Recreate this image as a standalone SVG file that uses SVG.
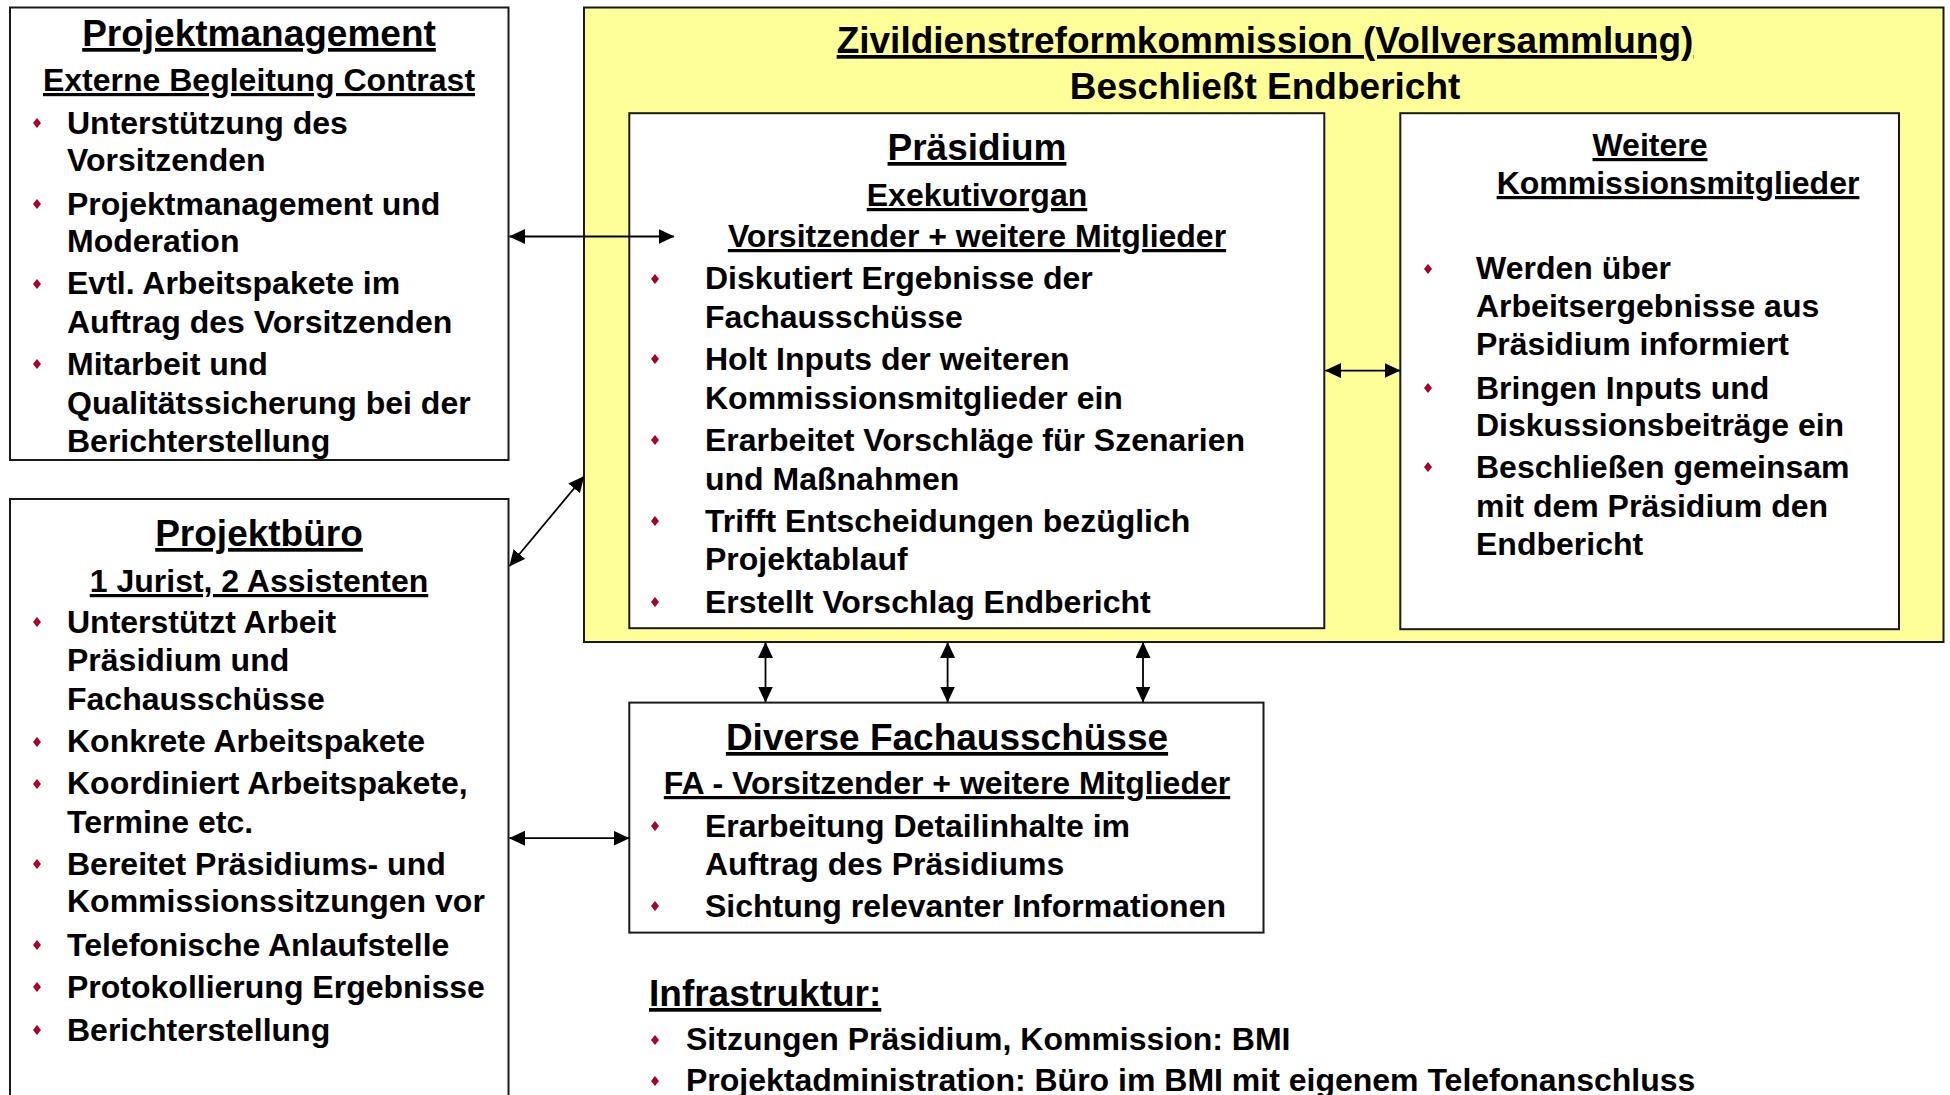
<svg xmlns="http://www.w3.org/2000/svg" width="1950" height="1095" viewBox="0 0 1950 1095">
<style>
text{font-family:"Liberation Sans",Arial,sans-serif;font-weight:bold;fill:#000}
.h1{font-size:37px;text-decoration:underline}
.h1n{font-size:37px}
.h2{font-size:32px;text-decoration:underline}
.b{font-size:32px}
.c{text-anchor:middle}
.box{fill:#fff;stroke:#1a1a1a;stroke-width:2}
.ybox{fill:#ffff99;stroke:#1a1a1a;stroke-width:2}
.con{stroke:#000;stroke-width:1.8;fill:none;marker-start:url(#ah);marker-end:url(#ah)}
</style>
<defs>
<marker id="ah" markerUnits="userSpaceOnUse" markerWidth="16" markerHeight="15" refX="15.5" refY="7.5" orient="auto-start-reverse"><path d="M0,0 L16,7.5 L0,15 z" fill="#000"/></marker>
<path id="dm" d="M0,-5 L4,0 L0,5 L-4,0 z" fill="#a8002a"/>
</defs>
<rect width="1950" height="1095" fill="#fff"/>

<g id="kommission">
<rect class="ybox" x="584" y="7.5" width="1359.5" height="634.5"/>
<text class="h1 c" x="1265" y="53">Zivildienstreformkommission (Vollversammlung)</text>
<text class="h1n c" x="1265" y="99">Beschließt Endbericht</text>
</g>

<g id="projektmanagement">
<rect class="box" x="10" y="7.5" width="498.5" height="452.5"/>
<text class="h1 c" x="259" y="46">Projektmanagement</text>
<text class="h2 c" x="259" y="91">Externe Begleitung Contrast</text>
<use href="#dm" x="37" y="123"/><use href="#dm" x="37" y="204"/><use href="#dm" x="37" y="284"/><use href="#dm" x="37" y="364"/>
<text class="b" x="67" y="134">Unterstützung des</text>
<text class="b" x="67" y="171">Vorsitzenden</text>
<text class="b" x="67" y="215">Projektmanagement und</text>
<text class="b" x="67" y="252">Moderation</text>
<text class="b" x="67" y="294">Evtl. Arbeitspakete im</text>
<text class="b" x="67" y="333">Auftrag des Vorsitzenden</text>
<text class="b" x="67" y="375">Mitarbeit und</text>
<text class="b" x="67" y="414">Qualitätssicherung bei der</text>
<text class="b" x="67" y="452">Berichterstellung</text>
</g>

<g id="projektbuero">
<rect class="box" x="10" y="499" width="498.5" height="620"/>
<text class="h1 c" x="259" y="546">Projektbüro</text>
<text class="h2 c" x="259" y="592">1 Jurist, 2 Assistenten</text>
<use href="#dm" x="37" y="622"/><use href="#dm" x="37" y="742"/><use href="#dm" x="37" y="784"/><use href="#dm" x="37" y="864"/><use href="#dm" x="37" y="945"/><use href="#dm" x="37" y="987"/><use href="#dm" x="37" y="1030"/>
<text class="b" x="67" y="633">Unterstützt Arbeit</text>
<text class="b" x="67" y="671">Präsidium und</text>
<text class="b" x="67" y="710">Fachausschüsse</text>
<text class="b" x="67" y="752">Konkrete Arbeitspakete</text>
<text class="b" x="67" y="794">Koordiniert Arbeitspakete,</text>
<text class="b" x="67" y="833">Termine etc.</text>
<text class="b" x="67" y="875">Bereitet Präsidiums- und</text>
<text class="b" x="67" y="912">Kommissionssitzungen vor</text>
<text class="b" x="67" y="956">Telefonische Anlaufstelle</text>
<text class="b" x="67" y="998">Protokollierung Ergebnisse</text>
<text class="b" x="67" y="1041">Berichterstellung</text>
</g>

<g id="praesidium">
<rect class="box" x="629.3" y="113.2" width="695" height="515"/>
<text class="h1 c" x="977" y="160">Präsidium</text>
<text class="h2 c" x="977" y="206">Exekutivorgan</text>
<text class="h2 c" x="977" y="247">Vorsitzender + weitere Mitglieder</text>
<use href="#dm" x="655" y="279"/><use href="#dm" x="655" y="359"/><use href="#dm" x="655" y="440"/><use href="#dm" x="655" y="521"/><use href="#dm" x="655" y="602"/>
<text class="b" x="705" y="289">Diskutiert Ergebnisse der</text>
<text class="b" x="705" y="328">Fachausschüsse</text>
<text class="b" x="705" y="370">Holt Inputs der weiteren</text>
<text class="b" x="705" y="409">Kommissionsmitglieder ein</text>
<text class="b" x="705" y="451">Erarbeitet Vorschläge für Szenarien</text>
<text class="b" x="705" y="490">und Maßnahmen</text>
<text class="b" x="705" y="532">Trifft Entscheidungen bezüglich</text>
<text class="b" x="705" y="570">Projektablauf</text>
<text class="b" x="705" y="613">Erstellt Vorschlag Endbericht</text>
</g>

<g id="weitere">
<rect class="box" x="1400.3" y="113.2" width="498.7" height="516"/>
<text class="h2 c" x="1650" y="156">Weitere</text>
<text class="h2 c" x="1678" y="194">Kommissionsmitglieder</text>
<use href="#dm" x="1428" y="269"/><use href="#dm" x="1428" y="388"/><use href="#dm" x="1428" y="467"/>
<text class="b" x="1476" y="279">Werden über</text>
<text class="b" x="1476" y="317">Arbeitsergebnisse aus</text>
<text class="b" x="1476" y="355">Präsidium informiert</text>
<text class="b" x="1476" y="399">Bringen Inputs und</text>
<text class="b" x="1476" y="436">Diskussionsbeiträge ein</text>
<text class="b" x="1476" y="478">Beschließen gemeinsam</text>
<text class="b" x="1476" y="517">mit dem Präsidium den</text>
<text class="b" x="1476" y="555">Endbericht</text>
</g>

<g id="fachausschuesse">
<rect class="box" x="629.3" y="702.6" width="634.2" height="230"/>
<text class="h1 c" x="947" y="750">Diverse Fachausschüsse</text>
<text class="h2 c" x="947" y="794">FA - Vorsitzender + weitere Mitglieder</text>
<use href="#dm" x="655" y="826"/><use href="#dm" x="655" y="906"/>
<text class="b" x="705" y="837">Erarbeitung Detailinhalte im</text>
<text class="b" x="705" y="875">Auftrag des Präsidiums</text>
<text class="b" x="705" y="917">Sichtung relevanter Informationen</text>
</g>

<g id="infrastruktur">
<text class="h1" x="649" y="1006">Infrastruktur:</text>
<use href="#dm" x="655" y="1040"/><use href="#dm" x="655" y="1081"/>
<text class="b" x="686" y="1050">Sitzungen Präsidium, Kommission: BMI</text>
<text class="b" x="686" y="1091">Projektadministration: Büro im BMI mit eigenem Telefonanschluss</text>
</g>

<g id="connectors">
<line class="con" x1="509.5" y1="236.5" x2="674" y2="236.5"/>
<line class="con" x1="509.5" y1="566" x2="584" y2="476.5"/>
<line class="con" x1="1325.5" y1="370.6" x2="1400" y2="370.6"/>
<line class="con" x1="765.5" y1="642.5" x2="765.5" y2="702"/>
<line class="con" x1="947.6" y1="642.5" x2="947.6" y2="702"/>
<line class="con" x1="1143" y1="642.5" x2="1143" y2="702"/>
<line class="con" x1="509.5" y1="838.2" x2="629" y2="838.2"/>
</g>
</svg>
